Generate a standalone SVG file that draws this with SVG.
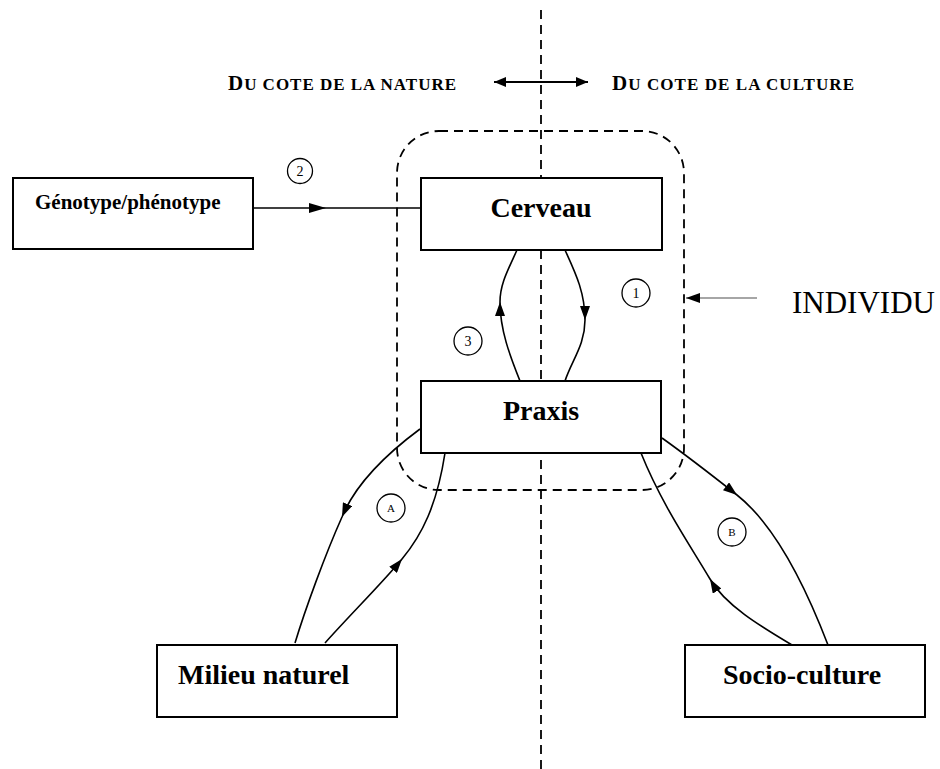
<svg xmlns="http://www.w3.org/2000/svg" width="940" height="769" viewBox="0 0 940 769">
<style>
.box{fill:#fff;stroke:#000;stroke-width:2}
.lbl{font-family:"Liberation Serif","Times New Roman",serif;font-weight:bold;fill:#000}
.cur{fill:none;stroke:#000;stroke-width:1.6}
.dash{fill:none;stroke:#000;stroke-width:1.8;stroke-dasharray:9 6}
.num{fill:#fff;stroke:#000;stroke-width:1.3}
.nt{font-family:"Liberation Serif","Times New Roman",serif;fill:#000;text-anchor:middle}
.top{font-family:"Liberation Serif","Times New Roman",serif;font-weight:bold;fill:#000}
</style>
<defs>
<marker id="arr" viewBox="0 0 14 10" refX="14" refY="5" markerUnits="userSpaceOnUse" markerWidth="14" markerHeight="10" orient="auto"><path d="M0,0 L14,5 L0,10 z" fill="#000"/></marker>
<marker id="arrG" viewBox="0 0 17 10" refX="17" refY="5" markerUnits="userSpaceOnUse" markerWidth="17" markerHeight="10" orient="auto"><path d="M0,0 L17,5 L0,10 z" fill="#000"/></marker>
<marker id="arrT" viewBox="0 0 12 10" refX="12" refY="5" markerUnits="userSpaceOnUse" markerWidth="12" markerHeight="10" orient="auto-start-reverse"><path d="M0,0 L12,5 L0,10 z" fill="#000"/></marker>
<marker id="arrI" viewBox="0 0 14 10" refX="14" refY="5" markerUnits="userSpaceOnUse" markerWidth="14" markerHeight="10" orient="auto"><path d="M0,0 L14,5 L0,10 z" fill="#000"/></marker>
</defs>

<g id="divider">
<line class="dash" x1="541" y1="10" x2="541" y2="769"/>
</g>

<g id="individu-boundary">
<rect class="dash" x="397" y="131" width="287" height="359" rx="42" ry="42"/>
</g>

<g id="top-labels">
<text class="top" x="228" y="90" textLength="228" lengthAdjust="spacing"><tspan font-size="21">D</tspan><tspan font-size="17">U COTE DE LA NATURE</tspan></text>
<text class="top" x="612" y="90" textLength="242" lengthAdjust="spacing"><tspan font-size="21">D</tspan><tspan font-size="17">U COTE DE LA CULTURE</tspan></text>
</g>

<g id="connectors">
<line x1="494" y1="82" x2="588" y2="82" stroke="#000" stroke-width="2" marker-start="url(#arrT)" marker-end="url(#arrT)"/>
<path class="cur" d="M253,208 L326,208 L420,208" marker-mid="url(#arrG)"/>
<path class="cur" d="M520,381 C510,356 500,330 500,302 C500,284 508,270 517,250" marker-mid="url(#arr)"/>
<path class="cur" d="M565,250 C575,272 585,292 585,320 C585,345 572,360 565,381" marker-mid="url(#arr)"/>
<path class="cur" d="M420,429 C385,455 355,485 342,517 C325,555 305,610 295,643" marker-mid="url(#arr)"/>
<path class="cur" d="M325,643 C350,615 385,580 402,559 C422,535 437,505 445,453" marker-mid="url(#arr)"/>
<path class="cur" d="M662,438 C690,458 718,480 737,495 C775,525 805,585 828,645" marker-mid="url(#arr)"/>
<path class="cur" d="M792,645 C760,626 725,605 710,579 C690,545 662,505 641,453" marker-mid="url(#arr)"/>
<line x1="757" y1="298" x2="686" y2="298" stroke="#888" stroke-width="1.5" marker-end="url(#arrI)"/>
</g>

<g id="genotype">
<rect class="box" x="13" y="178" width="240" height="71"/>
<text class="lbl" x="35" y="209" font-size="21">Génotype/phénotype</text>
</g>

<g id="cerveau">
<rect class="box" x="421" y="178" width="241" height="72"/>
<text class="lbl" x="541" y="217" font-size="28" text-anchor="middle">Cerveau</text>
</g>

<g id="praxis">
<rect class="box" x="421" y="381" width="240" height="72"/>
<text class="lbl" x="541" y="420" font-size="28" text-anchor="middle">Praxis</text>
</g>

<g id="milieu">
<rect class="box" x="157" y="645" width="240" height="72"/>
<text class="lbl" x="178" y="684" font-size="28">Milieu naturel</text>
</g>

<g id="socio">
<rect class="box" x="685" y="645" width="240" height="72"/>
<text class="lbl" x="723" y="684" font-size="28">Socio-culture</text>
</g>

<g id="individu">
<text x="792" y="313" font-family="Liberation Serif, Times New Roman, serif" font-size="31" fill="#000">INDIVIDU</text>
</g>

<g id="markers-num">
<circle class="num" cx="300" cy="171" r="12.5"/><text class="nt" x="300" y="176" font-size="14">2</text>
<circle class="num" cx="636" cy="293" r="14"/><text class="nt" x="636" y="298" font-size="14">1</text>
<circle class="num" cx="468" cy="341" r="14"/><text class="nt" x="468" y="346" font-size="14">3</text>
<circle class="num" cx="391" cy="508" r="14"/><text class="nt" x="391" y="512" font-size="11">A</text>
<circle class="num" cx="732" cy="532" r="14"/><text class="nt" x="732" y="536" font-size="11">B</text>
</g>
</svg>
